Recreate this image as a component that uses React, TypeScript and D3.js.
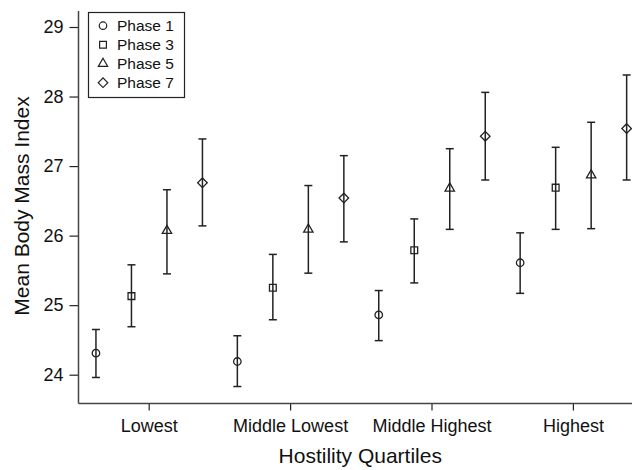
import React, { useEffect, useRef } from "react";
import * as d3 from "d3";

const categories = ["Lowest", "Middle Lowest", "Middle Highest", "Highest"];
const phases = ["Phase 1", "Phase 3", "Phase 5", "Phase 7"];
const yTicks = [24, 25, 26, 27, 28, 29];

// mean and 95% CI per phase, one value per quartile
const phase1Mean = [24.31, 24.19, 24.86, 25.61];
const phase1Low = [23.96, 23.83, 24.49, 25.17];
const phase1High = [24.65, 24.56, 25.21, 26.04];

const phase3Mean = [25.13, 25.25, 25.79, 26.69];
const phase3Low = [24.69, 24.79, 25.32, 26.09];
const phase3High = [25.58, 25.73, 26.24, 27.27];

const phase5Mean = [26.07, 26.09, 26.68, 26.87];
const phase5Low = [25.45, 25.46, 26.09, 26.1];
const phase5High = [26.66, 26.72, 27.25, 27.63];

const phase7Mean = [26.76, 26.54, 27.43, 27.54];
const phase7Low = [26.14, 25.91, 26.8, 26.8];
const phase7High = [27.39, 27.15, 28.06, 28.31];

const means = [phase1Mean, phase3Mean, phase5Mean, phase7Mean];
const lows = [phase1Low, phase3Low, phase5Low, phase7Low];
const highs = [phase1High, phase3High, phase5High, phase7High];

const width = 632;
const height = 470;
const font = "'Liberation Sans', Arial, Helvetica, sans-serif";
const ink = "#222";

const symbolFor = (i) => {
  if (i === 0) return { type: d3.symbolCircle, size: 44, rot: 0 };
  if (i === 1) return { type: d3.symbolSquare, size: 46, rot: 0 };
  if (i === 2) return { type: d3.symbolTriangle, size: 38, rot: 0 };
  return { type: d3.symbolSquare, size: 46, rot: 45 };
};

export default function App() {
  const ref = useRef(null);

  useEffect(() => {
    const svg = d3.select(ref.current);
    svg.selectAll("*").remove();

    const left = 78.5;
    const bottom = 403.5;
    const top = 11;

    const x = d3.scaleBand().domain(categories).range([left, left + 4 * 141.4]).padding(0);
    const offset = d3.scaleBand().domain(phases).range([-71, 71]).padding(0);
    const y = d3.scaleLinear().domain([24, 29]).range([374.7, 27]);

    const cx = (ci, pi) => x(categories[ci]) + x.bandwidth() / 2 + offset(phases[pi]) + offset.bandwidth() / 2;

    // axes
    const yAxis = svg
      .append("g")
      .attr("transform", `translate(${left},0)`)
      .call(d3.axisLeft(y).tickValues(yTicks).tickFormat(d3.format("d")).tickSize(9).tickSizeOuter(0).tickPadding(6));
    yAxis.select(".domain").remove();
    yAxis.selectAll("line").attr("stroke", ink).attr("stroke-width", 1.2);
    yAxis.selectAll("text").attr("font-family", font).attr("font-size", 18).attr("fill", "#111");

    const xAxis = svg
      .append("g")
      .attr("transform", `translate(0,${bottom})`)
      .call(d3.axisBottom(x).tickSize(7).tickSizeOuter(0).tickPadding(9));
    xAxis.select(".domain").remove();
    xAxis.selectAll("line").attr("stroke", ink).attr("stroke-width", 1.2);
    xAxis.selectAll("text").attr("font-family", font).attr("font-size", 18).attr("fill", "#111");

    svg.append("line").attr("x1", left).attr("x2", left).attr("y1", top).attr("y2", bottom)
      .attr("stroke", "#444").attr("stroke-width", 1.5);
    svg.append("line").attr("x1", left).attr("x2", width).attr("y1", bottom).attr("y2", bottom)
      .attr("stroke", "#444").attr("stroke-width", 1.5);

    // axis titles
    svg.append("text").attr("x", (left + 632) / 2 + 5).attr("y", 463)
      .attr("text-anchor", "middle").attr("font-family", font).attr("font-size", 21).attr("fill", "#111")
      .text("Hostility Quartiles");
    svg.append("text").attr("transform", `translate(28.5,206) rotate(-90)`)
      .attr("text-anchor", "middle").attr("font-family", font).attr("font-size", 21).attr("fill", "#111")
      .text("Mean Body Mass Index");

    // error bars and markers
    const g = svg.append("g");
    phases.forEach((p, pi) => {
      const sym = symbolFor(pi);
      categories.forEach((c, ci) => {
        const px = cx(ci, pi);
        const lo = y(lows[pi][ci]);
        const hi = y(highs[pi][ci]);
        g.append("line").attr("x1", px).attr("x2", px).attr("y1", lo).attr("y2", hi)
          .attr("stroke", ink).attr("stroke-width", 1.5);
        [lo, hi].forEach((yy) => {
          g.append("line").attr("x1", px - 4).attr("x2", px + 4).attr("y1", yy).attr("y2", yy)
            .attr("stroke", ink).attr("stroke-width", 1.5);
        });
        g.append("path")
          .attr("d", d3.symbol().type(sym.type).size(sym.size)())
          .attr("transform", `translate(${px},${y(means[pi][ci])}) rotate(${sym.rot})`)
          .attr("fill", "none").attr("stroke", ink).attr("stroke-width", 1.3);
      });
    });

    // legend
    const lg = svg.append("g");
    lg.append("rect").attr("x", 88.5).attr("y", 12.5).attr("width", 96).attr("height", 85)
      .attr("fill", "#fff").attr("stroke", ink).attr("stroke-width", 1.2);
    phases.forEach((p, pi) => {
      const sym = symbolFor(pi);
      const ly = 25.7 + pi * 19;
      lg.append("path")
        .attr("d", d3.symbol().type(sym.type).size(sym.size)())
        .attr("transform", `translate(103,${ly}) rotate(${sym.rot})`)
        .attr("fill", "none").attr("stroke", ink).attr("stroke-width", 1.2);
      lg.append("text").attr("x", 117).attr("y", ly + 5.5)
        .attr("font-family", font).attr("font-size", 15.5).attr("fill", "#111").text(p);
    });
  }, []);

  return (
    <svg
      ref={ref}
      width={width}
      height={height}
      style={{ position: "absolute", left: 0, top: 0, background: "#fff" }}
    />
  );
}
